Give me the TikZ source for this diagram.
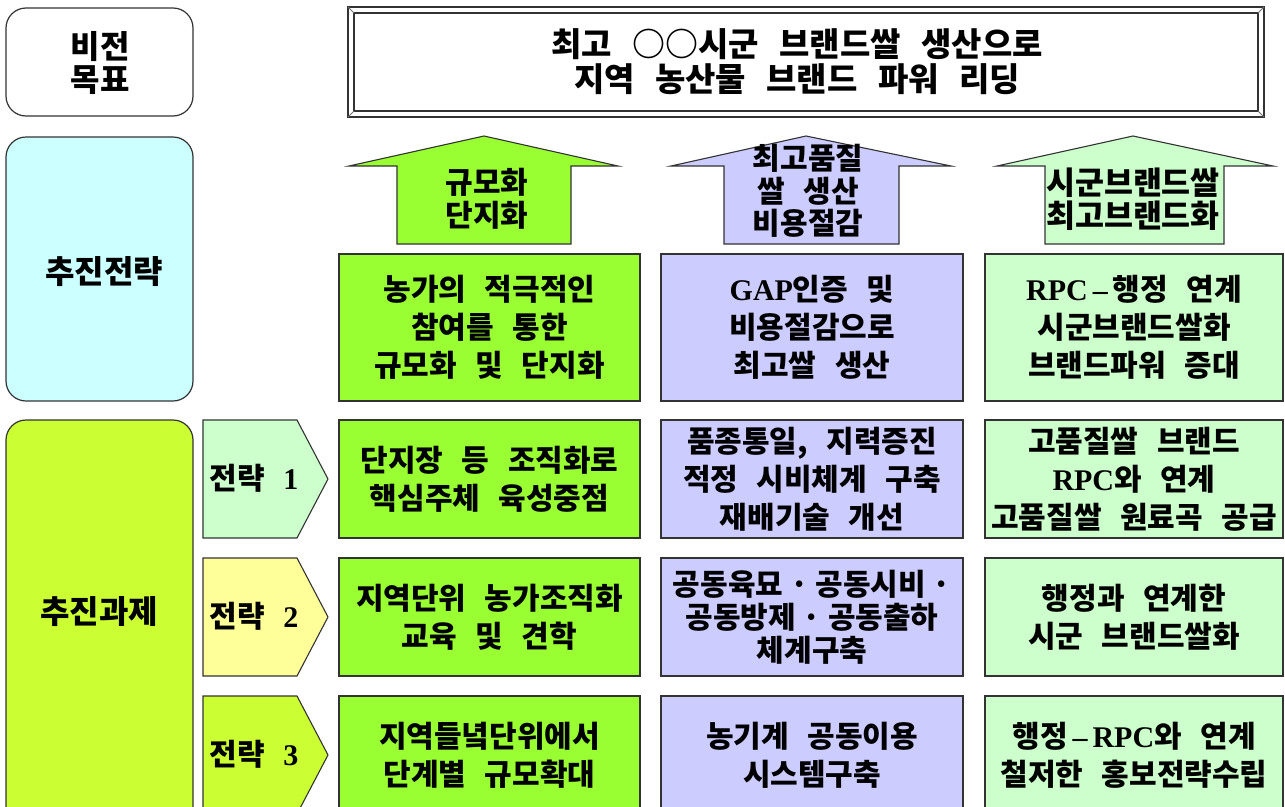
\documentclass[tikz,border=0pt]{standalone}
\usepackage{fontspec}
\setmainfont{Noto Sans CJK KR}[WordSpace=2.7]
\newfontfamily\latserif{Liberation Serif}
\newcommand{\LT}[1]{{\latserif\bfseries #1}}
\newcommand{\boxfont}{\fontsize{30}{38}\selectfont\bfseries}
\newcommand{\arrfont}{\fontsize{30}{32.5}\selectfont\bfseries}
\newcommand{\bigfont}{\fontsize{32}{33}\selectfont\bfseries}
\newcommand{\dt}{\hspace{7pt}·\hspace{7pt}}
\definecolor{bordc}{HTML}{333333}
\definecolor{cyanc}{HTML}{CCFFFF}
\definecolor{ygc}{HTML}{CCFF33}
\definecolor{grc}{HTML}{99FF33}
\definecolor{puc}{HTML}{CCCCFF}
\definecolor{lgc}{HTML}{CCFFCC}
\definecolor{yec}{HTML}{FFFF99}
\tikzset{
  cell/.style={draw=bordc, line width=1.2pt, inner sep=0pt, outer sep=0pt, align=center, font=\boxfont},
  leftbox/.style={draw=bordc, line width=1.2pt, rounded corners=20pt},
  arr/.style={draw=bordc, line width=1.1pt, line join=miter},
  lbl/.style={inner sep=0pt, align=center},
}
\begin{document}
\begin{tikzpicture}[x=1pt,y=-1pt]
\useasboundingbox (0,0) rectangle (1285,806);
\clip (0,0) rectangle (1285,806);
\fill[white] (0,0) rectangle (1285,806);

% left column
\draw[leftbox, fill=white] (6,8) rectangle (193,116);
\node[lbl, font=\bigfont] (vis) at (100,63) {비전\\목표};
\draw[leftbox, fill=cyanc] (6,137) rectangle (193,401);
\node[lbl, font=\bigfont] (str) at (104,272) {추진전략};
\draw[leftbox, fill=ygc] (6,420) rectangle (193,840);
\node[lbl, font=\bigfont] (tsk) at (99,612) {추진과제};

% title frame
\fill[white] (348,7) rectangle (1264,117);
\draw[bordc, line width=1.2pt] (348,7) rectangle (1264,117);
\draw[bordc, line width=1.2pt] (354,13) rectangle (1258,111);
\draw[bordc!70, line width=0.8pt] (348,7) -- (354,13) (1264,7) -- (1258,13) (348,117) -- (354,111) (1264,117) -- (1258,111);
\node[lbl, font=\fontsize{33}{35}\selectfont\bfseries] (title) at (797,62) {최고 ○○시군 브랜드쌀 생산으로\\지역 농산물 브랜드 파워 리딩};

% arrows
\draw[arr, fill=grc] (484,136) -- (618,166) -- (571,166) -- (571,244) -- (397,244) -- (397,166) -- (349,166) -- cycle;
\node[lbl, font=\arrfont] (a1) at (487,199) {규모화\\단지화};
\draw[arr, fill=puc] (806,136) -- (951,166) -- (899,166) -- (899,244) -- (724,244) -- (724,166) -- (671,166) -- cycle;
\node[lbl, font=\arrfont] (a2) at (808,191) {최고품질\\쌀 생산\\비용절감};
\draw[arr, fill=lgc] (1133,136) -- (1273,166) -- (1224,166) -- (1224,244) -- (1045,244) -- (1045,166) -- (997,166) -- cycle;
\node[lbl, font=\fontsize{31.5}{32.5}\selectfont\bfseries] (a3) at (1133,199) {시군브랜드쌀\\최고브랜드화};

% strategy row
\node[cell, fill=grc, minimum width=301pt, minimum height=147pt] (s1) at (489.5,327.5) {농가의 적극적인\\참여를 통한\\규모화 및 단지화};
\node[cell, fill=puc, minimum width=302pt, minimum height=147pt] (s2) at (812,327.5) {\LT{GAP}인증 및\\비용절감으로\\최고쌀 생산};
\node[cell, fill=lgc, minimum width=298pt, minimum height=147pt] (s3) at (1134,327.5) {\LT{RPC\,–\,}행정 연계\\시군브랜드쌀화\\브랜드파워 증대};

% pentagons
\draw[arr, fill=lgc] (203,420) -- (297,420) -- (328,479) -- (297,538) -- (203,538) -- cycle;
\node[lbl, font=\fontsize{30}{32}\selectfont\bfseries] (p1) at (254,478) {전략 \LT{1}};
\draw[arr, fill=yec] (203,558) -- (297,558) -- (328,617) -- (297,676) -- (203,676) -- cycle;
\node[lbl, font=\fontsize{30}{32}\selectfont\bfseries] (p2) at (254,616) {전략 \LT{2}};
\draw[arr, fill=ygc] (203,696) -- (297,696) -- (328,755) -- (297,814) -- (203,814) -- cycle;
\node[lbl, font=\fontsize{30}{32}\selectfont\bfseries] (p3) at (254,754) {전략 \LT{3}};

% task rows
\node[cell, fill=grc, minimum width=301pt, minimum height=118pt] (t11) at (489.5,479) {단지장 등 조직화로\\핵심주체 육성중점};
\node[cell, fill=puc, minimum width=302pt, minimum height=118pt] (t12) at (812,479) {품종통일, 지력증진\\적정 시비체계 구축\\재배기술 개선};
\node[cell, fill=lgc, minimum width=298pt, minimum height=118pt] (t13) at (1134,479) {고품질쌀 브랜드\\\LT{RPC}와 연계\\고품질쌀 원료곡 공급};

\node[cell, fill=grc, minimum width=301pt, minimum height=118pt] (t21) at (489.5,617) {지역단위 농가조직화\\교육 및 견학};
\node[cell, fill=puc, minimum width=302pt, minimum height=118pt, font=\fontsize{30}{33}\selectfont\bfseries] (t22) at (812,617) {공동육묘\dt 공동시비\dt\\공동방제\dt 공동출하\\체계구축};
\node[cell, fill=lgc, minimum width=298pt, minimum height=118pt] (t23) at (1134,617) {행정과 연계한\\시군 브랜드쌀화};

\node[cell, fill=grc, minimum width=301pt, minimum height=118pt] (t31) at (489.5,755) {지역들녘단위에서\\단계별 규모확대};
\node[cell, fill=puc, minimum width=302pt, minimum height=118pt] (t32) at (812,755) {농기계 공동이용\\시스템구축};
\node[cell, fill=lgc, minimum width=298pt, minimum height=118pt] (t33) at (1134,755) {행정\LT{\,–\,RPC}와 연계\\철저한 홍보전략수립};
\end{tikzpicture}
\end{document}
